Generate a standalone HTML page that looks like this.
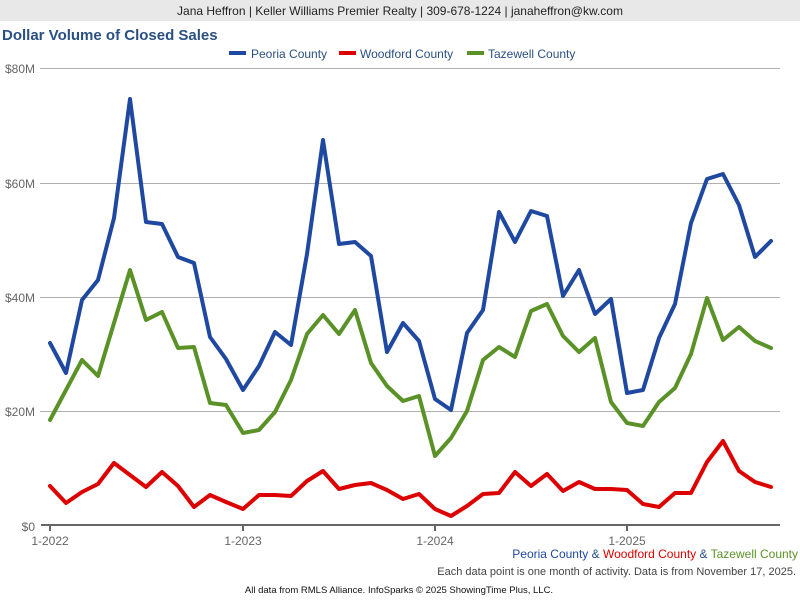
<!DOCTYPE html>
<html><head><meta charset="utf-8"><style>
body{margin:0;width:800px;height:600px;background:#fff;overflow:hidden;font-family:"Liberation Sans",Arial,sans-serif}
</style></head><body>
<svg width="800" height="600" xmlns="http://www.w3.org/2000/svg" font-family="Liberation Sans, Arial, sans-serif">
<rect x="0" y="0" width="800" height="21" fill="#e8e8e8"/>
<text x="400" y="15" font-size="12" text-anchor="middle" fill="#222">Jana Heffron | Keller Williams Premier Realty | 309-678-1224 | janaheffron@kw.com</text>
<text x="2" y="40" font-size="15" font-weight="bold" fill="#2a5082">Dollar Volume of Closed Sales</text>
<line x1="229" y1="53" x2="246" y2="53" stroke="#1f48a0" stroke-width="4"/>
<text x="251" y="58" font-size="12" fill="#2a5082">Peoria County</text>
<line x1="339" y1="53" x2="356" y2="53" stroke="#dd0000" stroke-width="4"/>
<text x="360" y="58" font-size="12" fill="#2a5082">Woodford County</text>
<line x1="467" y1="53" x2="484" y2="53" stroke="#5a9228" stroke-width="4"/>
<text x="488" y="58" font-size="12" fill="#2a5082">Tazewell County</text>
<g stroke="#b0b0b0" stroke-width="1">
<line x1="40" y1="68.5" x2="780" y2="68.5"/>
<line x1="40" y1="183.5" x2="780" y2="183.5"/>
<line x1="40" y1="297.5" x2="780" y2="297.5"/>
<line x1="40" y1="411.5" x2="780" y2="411.5"/>
</g>
<g font-size="12" fill="#666" text-anchor="end">
<text x="35" y="73">$80M</text>
<text x="35" y="188">$60M</text>
<text x="35" y="302">$40M</text>
<text x="35" y="416">$20M</text>
<text x="35" y="531">$0</text>
</g>
<line x1="41" y1="525" x2="780" y2="525" stroke="#666" stroke-width="2"/>
<g stroke="#666" stroke-width="2">
<line x1="50" y1="525" x2="50" y2="531"/><line x1="243" y1="525" x2="243" y2="531"/>
<line x1="435" y1="525" x2="435" y2="531"/><line x1="627" y1="525" x2="627" y2="531"/>
</g>
<g font-size="12" fill="#666" text-anchor="middle">
<text x="50" y="545">1-2022</text><text x="243" y="545">1-2023</text><text x="435" y="545">1-2024</text><text x="627" y="545">1-2025</text>
</g>
<g fill="none" stroke-width="4" stroke-linejoin="round" stroke-linecap="round">
<polyline stroke="#5a9228" points="50,420 66,390 82,360 98,376 114,323 130,270 146,320 162,312 178,348 194,347 210,403 226,405 243,433 259,430 275,412 291,380 307,334 323,315 339,334 355,310 371,363 387,386 403,401 419,396 435,456 451,438 467,411 483,360 499,347 515,357 531,311 547,304 563,336 579,352 595,338 611,402 627,423 643,426 659,402 675,388 691,354 707,298 723,340 739,327 755,341 771,348"/>
<polyline stroke="#dd0000" points="50,486 66,503 82,492 98,484 114,463 130,475 146,487 162,472 178,486 194,507 210,495 226,502 243,509 259,495 275,495 291,496 307,481 323,471 339,489 355,485 371,483 387,490 403,499 419,494 435,509 451,516 467,506 483,494 499,493 515,472 531,486 547,474 563,491 579,482 595,489 611,489 627,490 643,504 659,507 675,493 691,493 707,462 723,441 739,471 755,482 771,487"/>
<polyline stroke="#1f48a0" points="50,343 66,373 82,300 98,280 114,218 130,99 146,222 162,224 178,257 194,263 210,337 226,359 243,390 259,366 275,332 291,345 307,254 323,140 339,244 355,242 371,256 387,352 403,323 419,341 435,399 451,410 467,333 483,310 499,212 515,242 531,211 547,216 563,296 579,270 595,314 611,299 627,393 643,390 659,338 675,304 691,223 707,179 723,174 739,205 755,257 771,241"/>
</g>
<text x="798" y="558" font-size="12" text-anchor="end"><tspan fill="#1f48a0">Peoria County</tspan><tspan fill="#2a5082"> &amp; </tspan><tspan fill="#dd0000">Woodford County</tspan><tspan fill="#2a5082"> &amp; </tspan><tspan fill="#5a9228">Tazewell County</tspan></text>
<text x="796" y="575" font-size="11" text-anchor="end" fill="#444">Each data point is one month of activity. Data is from November 17, 2025.</text>
<text x="399" y="593" font-size="9.5" text-anchor="middle" fill="#111">All data from RMLS Alliance. InfoSparks © 2025 ShowingTime Plus, LLC.</text>
</svg>
</body></html>
